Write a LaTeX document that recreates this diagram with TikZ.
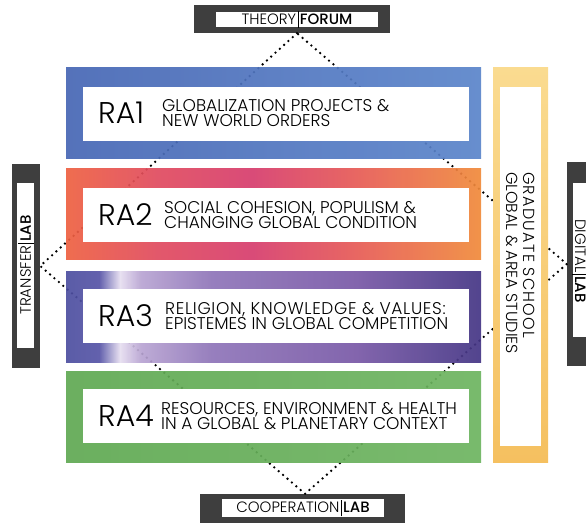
\documentclass[tikz,border=0pt]{standalone}
\usepackage{fontspec}
\setmainfont{Poppins}[UprightFont=*-Light, BoldFont=*-Medium]
\definecolor{labdark}{HTML}{3E3E3E}
\definecolor{raonea}{HTML}{4666B4}
\definecolor{raoneb}{HTML}{4A6BBA}
\definecolor{raonec}{HTML}{5A84CA}
\definecolor{ratwoa}{HTML}{EE6040}
\definecolor{ratwob}{HTML}{E04A5E}
\definecolor{ratwoc}{HTML}{D63C6C}
\definecolor{ratwod}{HTML}{E65A55}
\definecolor{ratwoe}{HTML}{F08A3A}
\definecolor{rathreea}{HTML}{4C4EA0}
\definecolor{rathreeb}{HTML}{5654A6}
\definecolor{rathreec}{HTML}{E6DEF0}
\definecolor{rathreed}{HTML}{B8A4D2}
\definecolor{rathreee}{HTML}{8E74B8}
\definecolor{rathreef}{HTML}{7858A6}
\definecolor{rathreeg}{HTML}{433484}
\definecolor{rafoura}{HTML}{5FA852}
\definecolor{rafourb}{HTML}{6DB460}
\definecolor{gradtop}{HTML}{FADB90}
\definecolor{gradbottom}{HTML}{F5C060}
\pgfdeclarehorizontalshading{ratwoshade}{100bp}{color(0bp)=(ratwoa); color(25bp)=(ratwoa); color(36bp)=(ratwob); color(47.5bp)=(ratwoc); color(60bp)=(ratwod); color(75bp)=(ratwoe); color(100bp)=(ratwoe)}
\pgfdeclarehorizontalshading{rathreeshade}{100bp}{color(0bp)=(rathreea); color(25bp)=(rathreea); color(29bp)=(rathreeb); color(31.5bp)=(rathreec); color(34bp)=(rathreed); color(42.5bp)=(rathreee); color(60bp)=(rathreef); color(75bp)=(rathreeg); color(100bp)=(rathreeg)}
\newcommand\labbar{\hspace{1.5pt}\rule[-0.22em]{0.7pt}{1.1em}\hspace{1.5pt}}
\tikzset{
  labframe/.style={fill=labdark, inner sep=0},
  labtext/.style={inner sep=0, font=\fontsize{15}{15}\selectfont},
  labbox/.style={fill=white, inner sep=0},
  dotline/.style={line width=2.6pt, line cap=round, dash pattern=on 0pt off 5.8pt},
  band/.style={minimum width=415, minimum height=91, inner sep=0, fill opacity=0.92},
  whitebox/.style={fill=white, minimum width=386, minimum height=54, inner sep=0},
  ranum/.style={anchor=west, inner sep=0, font=\fontsize{30}{30}\selectfont},
  desc/.style={anchor=west, inner sep=0, align=left, font=\fontsize{17}{15}\selectfont},
}
\begin{document}
\begin{tikzpicture}[x=1pt, y=1pt, yscale=-1]
\useasboundingbox (0, 0) rectangle (586, 522);
\node[labframe, minimum width=196, minimum height=28] (theory) at (292, 19) {};
\node[labframe, minimum width=205, minimum height=30] (cooperation) at (302.5, 509) {};
\node[labframe, minimum width=28, minimum height=204] (transfer) at (26, 266) {};
\node[labframe, minimum width=30, minimum height=204] (digital) at (582, 264) {};
\draw[dotline] ([xshift=5pt]theory.south) -- (transfer.east) -- ([xshift=2.5pt]cooperation.north) -- (digital.west) -- cycle;
\node[labbox, minimum width=162, minimum height=15] (theorybox) at (297, 19.5) {};
\node[labbox, minimum width=162, minimum height=18] (cooperationbox) at (303, 508) {};
\node[labbox, minimum width=17, minimum height=165] (transferbox) at (25.5, 265.5) {};
\node[labbox, minimum width=30, minimum height=154] (digitalbox) at (588, 260) {};
\node[labtext] (theorytext) at (theorybox) {THEORY\labbar\textbf{FORUM}};
\node[labtext] (cooperationtext) at (cooperationbox) {COOPERATION\labbar\textbf{LAB}};
\node[labtext, rotate=90] (transfertext) at (26, 265) {TRANSFER\labbar\textbf{LAB}};
\node[labtext, rotate=-90] (digitaltext) at (580, 261) {DIGITAL\labbar\textbf{LAB}};
\node[band, left color=raonea, middle color=raoneb, right color=raonec] (ra1) at (273.5, 112.5) {};
\node[band, shading=ratwoshade] (ra2) at (273.5, 214) {};
\node[band, shading=rathreeshade] (ra3) at (273.5, 316.5) {};
\node[band, left color=rafoura, right color=rafourb] (ra4) at (273.5, 417) {};
\node[whitebox] (ra1box) at (276, 114) {};
\node[whitebox] (ra2box) at (276, 215) {};
\node[whitebox] (ra3box) at (276, 316) {};
\node[whitebox] (ra4box) at (276, 416) {};
\node[ranum] (ra1num) at (98, 113) {RA1};
\node[ranum] (ra2num) at (98, 215) {RA2};
\node[ranum] (ra3num) at (98, 316) {RA3};
\node[ranum] (ra4num) at (98, 416) {RA4};
\node[desc] (ra1text) at (162, 113) {GLOBALIZATION PROJECTS \&\\NEW WORLD ORDERS};
\node[desc] (ra2text) at (164, 215) {SOCIAL COHESION, POPULISM \&\\CHANGING GLOBAL CONDITION};
\node[desc] (ra3text) at (165, 316) {{\addfontfeature{LetterSpace=4}RELIGION, KNOWLEDGE \& VALUES:}\\EPISTEMES IN GLOBAL COMPETITION};
\node[desc] (ra4text) at (161, 416) {RESOURCES, ENVIRONMENT \& HEALTH\\IN A GLOBAL \& PLANETARY CONTEXT};
\node[inner sep=0, minimum width=55, minimum height=395, top color=gradtop, bottom color=gradbottom] (grad) at (520.5, 264.5) {};
\node[fill=white, inner sep=0, minimum width=41, minimum height=359] (gradbox) at (520.5, 266.5) {};
\node[rotate=-90, align=left, inner sep=0, font=\fontsize{16}{17}\selectfont] (gradtext) at (520.5, 263) {{\addfontfeature{LetterSpace=8}GRADUATE SCHOOL}\\GLOBAL \& AREA STUDIES};
\end{tikzpicture}
\end{document}
